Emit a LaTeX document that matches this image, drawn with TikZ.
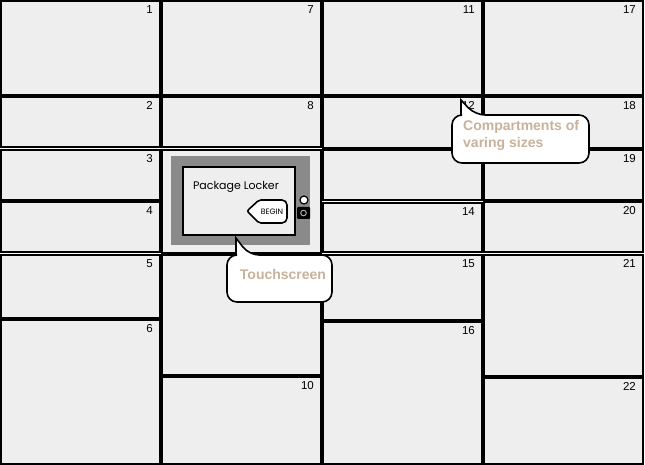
\documentclass[tikz,border=0pt]{standalone}
\usepackage{fontspec}
\setmainfont{Liberation Sans}
\newfontfamily\handfont{Poppins}
\definecolor{boxfill}{HTML}{EEEEEE}
\definecolor{tan}{HTML}{C8B29A}
\definecolor{bezel}{HTML}{8A8A8A}
\tikzset{
  compart/.style={draw=black, fill=boxfill, line width=2.2pt, inner sep=0pt, outer sep=0pt},
  num/.style={inner sep=0pt, font=\fontsize{11.5}{12}\selectfont},
  bubble/.style={draw=black, fill=white, line width=1.6pt, rounded corners=10pt},
  bubbletext/.style={text=tan, font=\bfseries\fontsize{14}{17}\selectfont, align=left, inner sep=0pt},
}
\newcommand\cmp[6]{%
  \node[compart, minimum width=#4pt, minimum height=#5pt, anchor=north west] (#1) at (#2,#3) {};
  \node[num, anchor=north east] (#1n) at ([xshift=-7pt,yshift=-4pt]#1.north east) {#6};}
\newcommand\cmpx[5]{%
  \node[compart, minimum width=#4pt, minimum height=#5pt, anchor=north west] (#1) at (#2,#3) {};}
\begin{document}
\begin{tikzpicture}[x=1pt,y=-1pt]
\useasboundingbox[fill=white] (0,0) rectangle (645,465);
% column 1
\cmp{b1}{1}{1}{159}{94}{1}
\cmp{b2}{1}{97}{159}{50}{2}
\cmp{b3}{1}{150}{159}{50}{3}
\cmp{b4}{1}{202}{159}{50}{4}
\cmp{b5}{1}{255}{159}{63}{5}
\cmp{b6}{1}{320}{159}{144}{6}
% column 2
\cmp{b7}{162}{1}{159}{94}{7}
\cmp{b8}{162}{97}{159}{50}{8}
\cmpx{bs}{162}{150}{159}{103}
\cmpx{b9}{162}{255}{159}{120}
\cmp{b10}{162}{377}{159}{87}{10}
% column 3
\cmp{b11}{323}{1}{159}{94}{11}
\cmp{b12}{323}{97}{159}{51}{12}
\cmpx{b13}{323}{150}{159}{50}
\cmp{b14}{323}{203}{159}{49}{14}
\cmp{b15}{323}{255}{159}{65}{15}
\cmp{b16}{323}{322}{159}{142}{16}
% column 4
\cmp{b17}{484}{1}{159}{94}{17}
\cmp{b18}{484}{97}{159}{51}{18}
\cmp{b19}{484}{150}{159}{50}{19}
\cmp{b20}{484}{202}{159}{50}{20}
\cmp{b21}{484}{255}{159}{121}{21}
\cmp{b22}{484}{378}{159}{86}{22}
% touchscreen unit
\fill[bezel] (171,156) rectangle (310,245);
\draw[fill=boxfill, line width=1.6pt] (183,167) rectangle (295,235);
\node[font=\handfont\fontsize{11}{12}\selectfont, inner sep=0pt] (title) at (236,187) {Package Locker};
\draw[fill=white, line width=1.6pt, rounded corners=2pt] (247,211) -- (259,200) [rounded corners=5pt] -- (287,200) -- (287,223) [rounded corners=2pt] -- (259,223) -- cycle;
\node[font=\handfont\fontsize{7.8}{8}\selectfont, inner sep=0pt] (begin) at (272,212) {BEGIN};
\draw[fill=white, line width=1.2pt] (304,200) circle (4);
\fill[black, rounded corners=1pt] (297,207) rectangle (310,219);
\draw[gray!70, line width=1pt] (303.5,213) circle (2.8);
% callout: touchscreen
\draw[bubble] (236,255) -- (227,255) -- (227,302) -- (332,302) -- (332,255) -- (249,255) [sharp corners] -- (236,238) -- (236,255);
\node[bubbletext] (tcap) at (283,274) {Touchscreen};
% callout: compartments
\draw[bubble] (461,115) -- (452,115) -- (452,163) -- (589,163) -- (589,115) -- (475,115) [sharp corners] -- (461,100) -- (461,115);
\node[bubbletext, anchor=north west] (ccap) at (463,120) {Compartments of\\varing sizes};
\end{tikzpicture}
\end{document}
